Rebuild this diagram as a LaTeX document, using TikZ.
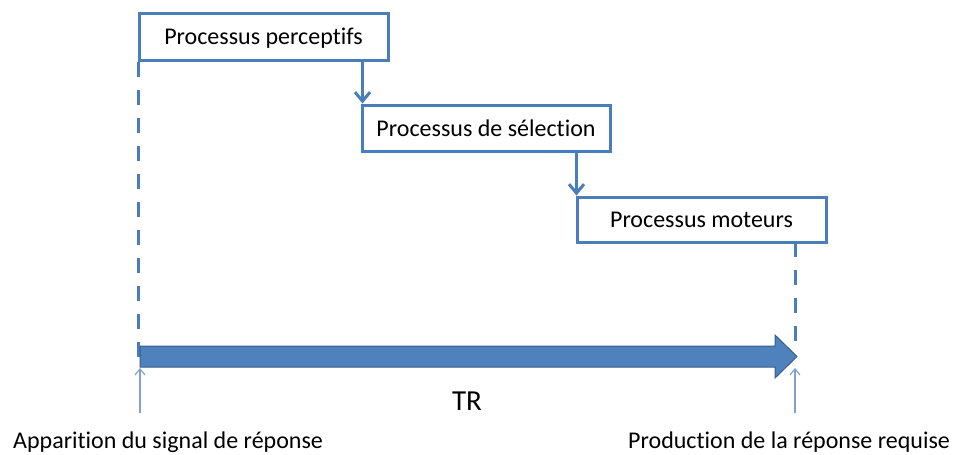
\documentclass[tikz,border=0pt]{standalone}
\usepackage{fontspec}
\setmainfont{Carlito}[RawFeature={-liga;-clig;-calt;-dlig}]
\usetikzlibrary{arrows.meta,calc}
\definecolor{boxblue}{HTML}{4A7EBB}
\definecolor{barfill}{HTML}{4F81BD}
\definecolor{barline}{HTML}{385D8A}
\definecolor{markblue}{HTML}{7DA1D0}
\tikzset{
  procbox/.style={draw=boxblue, line width=3pt, fill=white, rectangle,
    inner sep=0pt, text height=16pt, text depth=0pt,
    font=\fontsize{24}{28}\selectfont},
  flow/.style={draw=boxblue, line width=3pt,
    -{Straight Barb[length=9pt,width=15pt]}},
  guide/.style={draw=boxblue, line width=3pt, dash pattern=on 15pt off 13pt},
  marker/.style={draw=markblue, line width=1.2pt,
    -{Straight Barb[length=6pt,width=10pt]}},
  caption/.style={inner sep=0pt, font=\fontsize{24}{28}\selectfont}
}
\begin{document}
\begin{tikzpicture}[x=1pt,y=-1pt]
\useasboundingbox (0,0) rectangle (962,455);

% processing stages
\node[procbox, minimum width=249pt, minimum height=47pt] (b1) at (263.5,36.5) {Processus perceptifs};
\node[procbox, minimum width=248pt, minimum height=46pt] (b2) at (486,128) {Processus de sélection};
\node[procbox, minimum width=249pt, minimum height=45pt] (b3) at (701.5,219.5) {Processus moteurs};

% stage-to-stage connectors
\draw[flow] ([xshift=2pt]b2.north west |- b1.south) -- ([xshift=2pt]b2.north west);
\draw[flow] ([xshift=1pt]b3.north west |- b2.south) -- ([xshift=1pt]b3.north west);

% time axis end points
\coordinate (tstart) at (140,356.5);
\coordinate (tend) at (797,356.5);

% dashed guides down to the time axis
\draw[guide] ([xshift=1pt]b1.south west) -- ([xshift=1pt,yshift=-11pt]b1.south west |- tstart);
\draw[guide] (795,242) -- (795,341);

% reaction time bar
\filldraw[fill=barfill, draw=barline, line width=1pt]
  ($(tstart)+(0,-10.5)$) -- ($(tend)+(-22,-10.5)$) -- ($(tend)+(-22,-21.5)$)
  -- (tend) -- ($(tend)+(-22,21.5)$) -- ($(tend)+(-22,10.5)$)
  -- ($(tstart)+(0,10.5)$) -- cycle;

\node[inner sep=0pt, anchor=base, font=\fontsize{29}{34}\selectfont] (tr) at (467,410) {TR};

% event labels and their markers
\node[caption, anchor=base west] (onset) at (13,448) {Apparition du signal de réponse};
\node[caption, anchor=base west] (resp) at (628,448) {Production de la réponse requise};
\coordinate (m1a) at (140,413);
\coordinate (m1b) at (140,368);
\coordinate (m2a) at (795,413);
\coordinate (m2b) at (795,368);
\draw[marker] (m1a) -- (m1b);
\draw[marker] (m2a) -- (m2b);
\end{tikzpicture}
\end{document}
